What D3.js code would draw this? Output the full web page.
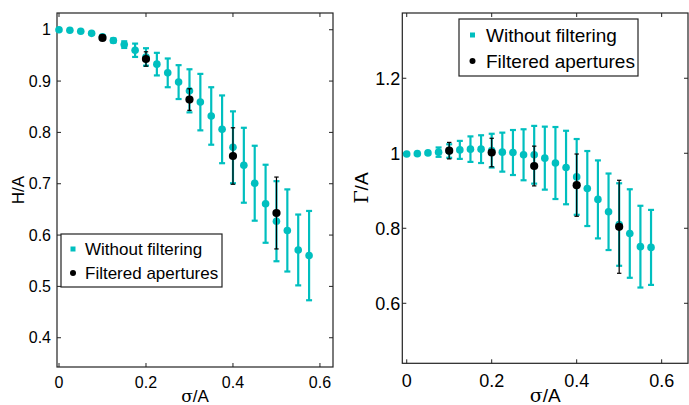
<!DOCTYPE html>
<html>
<head>
<meta charset="utf-8">
<script src="https://cdn.jsdelivr.net/npm/d3@7"></script>
<style>
  body { margin: 0; background: #fff; }
  svg { display: block; font-family: "Liberation Sans", Arial, sans-serif; }
</style>
</head>
<body>
<svg id="chart" width="689" height="405"></svg>
<script>
// sigma/A sample positions (cyan series)
const sigma = [0, 0.025, 0.05, 0.075, 0.1, 0.125, 0.15, 0.175, 0.2, 0.225, 0.25, 0.275,
  0.3, 0.325, 0.35, 0.375, 0.4, 0.425, 0.45, 0.475, 0.5, 0.525, 0.55, 0.575];
const sigmaFiltered = [0.1, 0.2, 0.3, 0.4, 0.5];

// H/A, left panel
const hWithout = [1.0, 0.999, 0.997, 0.993, 0.986, 0.979, 0.971, 0.960, 0.947, 0.933, 0.916, 0.898,
  0.881, 0.859, 0.832, 0.806, 0.771, 0.736, 0.701, 0.661, 0.627, 0.609, 0.571, 0.560];
const hWithoutErr = [0, 0, 0.001, 0.002, 0.003, 0.004, 0.0065, 0.013, 0.017, 0.022, 0.028, 0.033,
  0.042, 0.055, 0.056, 0.066, 0.070, 0.073, 0.073, 0.076, 0.078, 0.080, 0.069, 0.087];
const hFiltered = [0.984, 0.943, 0.864, 0.754, 0.643];
const hFilteredErr = [0.002, 0.014, 0.021, 0.055, 0.070];

// Gamma/A, right panel
const gWithout = [0.998, 0.999, 1.001, 1.003, 1.006, 1.009, 1.011, 1.011, 1.007, 1.003, 1.002, 0.996,
  0.996, 0.987, 0.974, 0.962, 0.937, 0.906, 0.877, 0.844, 0.810, 0.786, 0.751, 0.749];
const gWithoutErr = [0, 0, 0.002, 0.0125, 0.018, 0.024, 0.034, 0.037, 0.045, 0.052, 0.060, 0.068,
  0.077, 0.084, 0.096, 0.098, 0.101, 0.100, 0.104, 0.102, 0.110, 0.118, 0.109, 0.100];
const gFiltered = [1.007, 1.002, 0.966, 0.915, 0.804];
const gFilteredErr = [0.022, 0.038, 0.053, 0.083, 0.124];

const xTicks = [0, 0.2, 0.4, 0.6];
const hTicks = [0.4, 0.5, 0.6, 0.7, 0.8, 0.9, 1];
const gTicks = [0.6, 0.8, 1, 1.2];
const legendLabels = ["Without filtering", "Filtered apertures"];

const CYAN = "#00bfbf";
const svg = d3.select("#chart");

function drawPanel(p) {
  const x = d3.scaleLinear().domain(p.xDomain).range([p.left, p.right]);
  const y = d3.scaleLinear().domain(p.yDomain).range([p.bottom, p.top]);
  const g = svg.append("g");

  // frame
  g.append("rect")
    .attr("x", p.left).attr("y", p.top)
    .attr("width", p.right - p.left).attr("height", p.bottom - p.top)
    .attr("fill", "none").attr("stroke", "#222").attr("stroke-width", 1.2);

  // ticks inside, on all four sides
  const tl = 4;
  xTicks.forEach((t) => {
    g.append("line").attr("x1", x(t)).attr("x2", x(t)).attr("y1", p.bottom).attr("y2", p.bottom - tl).attr("stroke", "#222");
    g.append("line").attr("x1", x(t)).attr("x2", x(t)).attr("y1", p.top).attr("y2", p.top + tl).attr("stroke", "#222");
    g.append("text").attr("x", x(t)).attr("y", p.bottom + p.xLabelDy)
      .attr("text-anchor", "middle").attr("font-size", p.tickFont).text(d3.format("")(t));
  });
  p.yTicks.forEach((t) => {
    g.append("line").attr("x1", p.left).attr("x2", p.left + tl).attr("y1", y(t)).attr("y2", y(t)).attr("stroke", "#222");
    g.append("line").attr("x1", p.right).attr("x2", p.right - tl).attr("y1", y(t)).attr("y2", y(t)).attr("stroke", "#222");
    g.append("text").attr("x", p.left - p.yLabelGap).attr("y", y(t)).attr("dy", "0.36em")
      .attr("text-anchor", "end").attr("font-size", p.tickFont).text(t);
  });

  // axis titles
  g.append("text").attr("x", (p.left + p.right) / 2).attr("y", p.xTitleY)
    .attr("text-anchor", "middle").attr("font-size", p.tickFont + 1)
    .html('<tspan font-family="DejaVu Serif, serif">σ</tspan>/A');
  g.append("text")
    .attr("transform", `translate(${p.yTitleX},${p.yTitleY}) rotate(-90)`)
    .attr("text-anchor", "middle").attr("font-size", p.tickFont + 1)
    .html(p.yTitle);

  // error bars + markers
  function series(xs, ys, es, color, sw, cap, r) {
    const data = xs.map((d, i) => ({ x: d, y: ys[i], e: es[i] }));
    const bars = g.append("g").attr("stroke", color).attr("stroke-width", sw);
    data.filter((d) => d.e > 0.0015).forEach((d) => {
      const cx = x(d.x), y0 = y(d.y - d.e), y1 = y(d.y + d.e);
      bars.append("line").attr("x1", cx).attr("x2", cx).attr("y1", y0).attr("y2", y1);
      bars.append("line").attr("x1", cx - cap).attr("x2", cx + cap).attr("y1", y0).attr("y2", y0);
      bars.append("line").attr("x1", cx - cap).attr("x2", cx + cap).attr("y1", y1).attr("y2", y1);
    });
    g.append("g").selectAll("circle").data(data).enter().append("circle")
      .attr("cx", (d) => x(d.x)).attr("cy", (d) => y(d.y)).attr("r", r).attr("fill", color);
  }
  series(sigma, p.without, p.withoutErr, CYAN, 2.2, 3, 3.8);
  series(sigmaFiltered, p.filtered, p.filteredErr, "#000", 1.2, 2.2, 4.1);

  // legend
  const lg = g.append("g");
  lg.append("rect").attr("x", p.leg.x).attr("y", p.leg.y).attr("width", p.leg.w).attr("height", p.leg.h)
    .attr("fill", "#fff").attr("stroke", "#222").attr("stroke-width", 1.2);
  legendLabels.forEach((lab, i) => {
    const cy = p.leg.y + p.leg.row0 + i * p.leg.rowH;
    if (i === 0) {
      lg.append("rect").attr("x", p.leg.x + p.leg.mx - 2.5).attr("y", cy - 2.5)
        .attr("width", 5).attr("height", 5).attr("fill", CYAN);
    } else {
      lg.append("circle").attr("cx", p.leg.x + p.leg.mx).attr("cy", cy).attr("r", 3).attr("fill", "#000");
    }
    lg.append("text").attr("x", p.leg.x + p.leg.tx).attr("y", cy).attr("dy", "0.36em")
      .attr("font-size", p.leg.font).text(lab);
  });
}

drawPanel({
  left: 57, right: 333, top: 13, bottom: 367,
  xDomain: [-0.0046, 0.63], yDomain: [0.343, 1.0326],
  yTicks: hTicks, tickFont: 16, xLabelDy: 21, yLabelGap: 6,
  xTitleY: 402, yTitleX: 24, yTitleY: 190, yTitle: "H/A",
  without: hWithout, withoutErr: hWithoutErr, filtered: hFiltered, filteredErr: hFilteredErr,
  leg: { x: 61, y: 234, w: 161, h: 53, row0: 15, rowH: 24, mx: 12, tx: 24, font: 17 }
});

drawPanel({
  left: 402.3, right: 688, top: 13, bottom: 363.3,
  xDomain: [-0.0104, 0.662], yDomain: [0.44, 1.374],
  yTicks: gTicks, tickFont: 18, xLabelDy: 24, yLabelGap: 2,
  xTitleY: 402, yTitleX: 368, yTitleY: 188,
  yTitle: '<tspan font-family="DejaVu Serif, serif">Γ</tspan>/A',
  without: gWithout, withoutErr: gWithoutErr, filtered: gFiltered, filteredErr: gFilteredErr,
  leg: { x: 459, y: 19, w: 179, h: 57, row0: 16, rowH: 26, mx: 13.5, tx: 27, font: 19 }
});
</script>
</body>
</html>
